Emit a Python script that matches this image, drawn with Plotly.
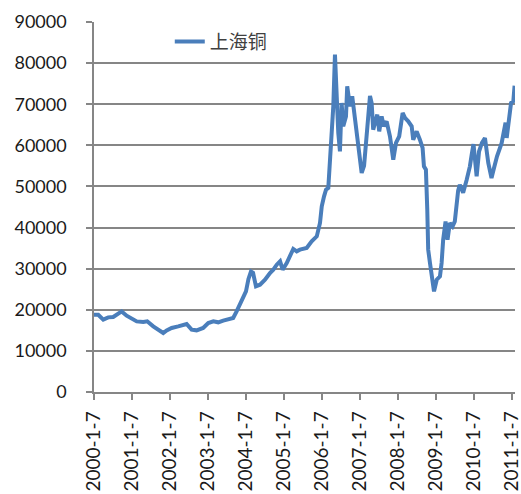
import plotly.graph_objects as go

dates = [
    "2000-01-07", "2000-02-17", "2000-04-05", "2000-05-23", "2000-07-10", "2000-09-29",
    "2000-11-16", "2001-01-04", "2001-02-21", "2001-04-25", "2001-06-02", "2001-07-30",
    "2001-09-16", "2001-11-03", "2001-12-06", "2002-01-23", "2002-03-27", "2002-06-16",
    "2002-08-03", "2002-09-20", "2002-11-22", "2003-01-10", "2003-02-28", "2003-04-16",
    "2003-06-03", "2003-07-21", "2003-09-07", "2003-10-10", "2003-11-10", "2003-12-09",
    "2004-01-08", "2004-02-01", "2004-02-25", "2004-03-16", "2004-04-13", "2004-05-22",
    "2004-07-09", "2004-08-26", "2004-09-27", "2004-10-30", "2004-12-01", "2004-12-26",
    "2005-02-03", "2005-04-07", "2005-05-10", "2005-06-10", "2005-08-14", "2005-10-01",
    "2005-11-19", "2005-12-20", "2006-01-06", "2006-01-28", "2006-02-16", "2006-03-10",
    "2006-04-12", "2006-04-27", "2006-05-13", "2006-05-29", "2006-06-14", "2006-06-30",
    "2006-07-16", "2006-08-01", "2006-08-27", "2006-09-08", "2006-10-04", "2006-10-26",
    "2006-11-21", "2006-12-07", "2007-01-09", "2007-01-25", "2007-02-17", "2007-03-14",
    "2007-03-29", "2007-04-15", "2007-05-01", "2007-05-16", "2007-06-02", "2007-06-24",
    "2007-07-13", "2007-08-05", "2007-08-27", "2007-09-22", "2007-10-24", "2007-11-25",
    "2007-12-21", "2008-01-21", "2008-02-23", "2008-03-17", "2008-04-17", "2008-05-20",
    "2008-06-04", "2008-07-07", "2008-08-07", "2008-09-02", "2008-09-15", "2008-10-04",
    "2008-10-17", "2008-10-26", "2008-11-12", "2008-11-29", "2008-12-21", "2009-01-16",
    "2009-02-16", "2009-03-04", "2009-03-19", "2009-04-11", "2009-04-30", "2009-05-22",
    "2009-06-17", "2009-07-09", "2009-08-10", "2009-08-26", "2009-09-27", "2009-10-30",
    "2009-12-01", "2009-12-20", "2010-01-05", "2010-02-04", "2010-02-27", "2010-03-27",
    "2010-04-25", "2010-05-27", "2010-06-27", "2010-07-21", "2010-08-19", "2010-10-03",
    "2010-10-25", "2010-11-09", "2010-11-20", "2010-12-12", "2011-01-01", "2011-01-23",
    "2011-02-04",
]

copper = [
    18800, 18800, 17600, 18150, 18250, 19600,
    18560, 17760, 17180, 17030, 17200, 15960,
    15160, 14350, 14990, 15570, 15960, 16540,
    15160, 15000, 15570, 16790, 17180, 16950,
    17380, 17600, 18000, 19600, 21240, 22500,
    24500, 27500, 29300, 29000, 25700, 26100,
    27300, 28950, 29750, 30970, 31780, 29750,
    31380, 34790, 34210, 34620, 35030, 36640,
    37860, 41110, 45160, 47590, 49220, 49640,
    61380, 69490, 82060, 69490, 63010, 58540,
    70310, 64620, 67050, 74350, 69490, 71920,
    67050, 63820, 57320, 53280, 55000, 63000,
    66500, 72000, 70310, 63820, 65450, 67470,
    63400, 67050, 64620, 65840, 62190, 56520,
    60580, 62190, 67880, 66660, 65840, 64620,
    61380, 63400, 61380, 59360, 54890, 54090,
    44360, 34620, 31380, 28540, 24470, 27320,
    28130, 31380, 37050, 41500, 37050, 41110,
    40290, 41500, 49000, 50430, 48500, 51500,
    54890, 58000, 60300, 52460, 58500, 60580,
    61790, 55700, 52060, 54500, 57320, 60580,
    63820, 65500, 61790, 67050, 70310, 70720,
    74500,
]

tick_dates = ["%d-01-07" % y for y in range(2000, 2012)]
tick_labels = ["%d-1-7" % y for y in range(2000, 2012)]
y_ticks = list(range(0, 90001, 10000))

series_name = "上海铜"

fig = go.Figure()
fig.add_trace(go.Scatter(
    x=dates, y=copper, mode="lines", name=series_name,
    line=dict(color="#4a7ebb", width=4),
))

font_family = "Lato, 'Noto Sans CJK SC', sans-serif"
fig.update_layout(
    width=521, height=494,
    margin=dict(l=94, r=6, t=22, b=102, autoexpand=False),
    paper_bgcolor="white", plot_bgcolor="white",
    font=dict(family=font_family, size=18, color="#1a1a1a"),
    showlegend=True,
    legend=dict(x=0.18, y=0.998, xanchor="left", yanchor="top",
                bgcolor="rgba(0,0,0,0)", borderwidth=0,
                font=dict(family=font_family, size=19, color="#404040")),
    xaxis=dict(
        type="date", range=["2000-01-07", "2011-02-08"],
        tickvals=tick_dates, ticktext=tick_labels, tickangle=-90,
        tickfont=dict(size=19),
        showgrid=False, zeroline=False, automargin=False,
        ticklabeloverflow="allow", ticklabelstandoff=4,
        showline=True, linecolor="#868686", linewidth=1.5,
        ticks="outside", ticklen=6, tickcolor="#868686", tickwidth=1.5,
    ),
    yaxis=dict(
        range=[0, 90000], tickvals=y_ticks, tickformat="d",
        showgrid=True, gridcolor="#868686", gridwidth=1.5,
        zeroline=False, automargin=False,
        ticklabelstandoff=16,
        showline=True, linecolor="#868686", linewidth=1.5,
        ticks="outside", ticklen=6, tickcolor="#868686", tickwidth=1.5,
    ),
)

fig.write_html(
    "out.html",
    config={"displayModeBar": False},
    post_script="document.body.style.margin='0';document.body.style.overflow='hidden';",
)
